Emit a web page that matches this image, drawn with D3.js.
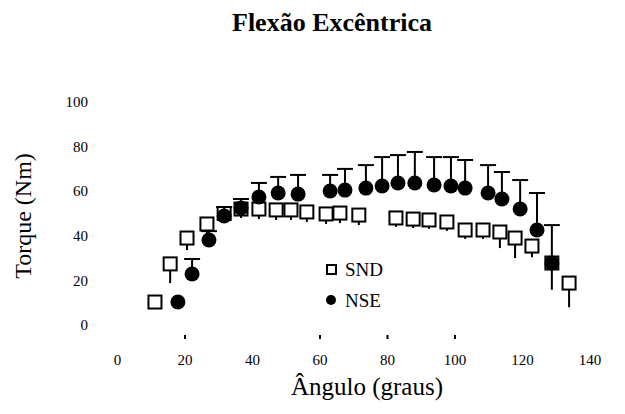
<!DOCTYPE html>
<html><head><meta charset="utf-8">
<script src="https://cdn.jsdelivr.net/npm/d3@7"></script>
<style>body{margin:0;background:#fff}svg{display:block}</style>
</head><body><svg id="c" width="625" height="414"></svg>
<script>
const titleText = "Flexão Excêntrica";
const xLabelText = "Ângulo (graus)";
const yLabelText = "Torque (Nm)";
const xTicks = [0,20,40,60,80,100,120,140];
const xTickMarks = [20,60,80,100];
const yTicks = [0,20,40,60,80,100];
const seriesNames = ["SND","NSE"];

const sndAngle  = [11.1,15.6,20.6,26.5,31.6,36.6,41.9,47,51.4,56.1,61.8,65.9,71.5,82.5,87.6,92.3,97.6,103,108.3,113.3,117.8,122.8,128.7,133.8];
const sndTorque = [10.3,27.4,39,45.3,50,52,52,51.6,51.6,50.7,49.8,50.2,49.3,48,47.5,47.1,46.2,42.6,42.6,41.7,39,35.4,27.8,18.8];
const sndErr    = [3,8.6,5.4,5,4,4,4.5,4.5,4.5,4.5,4.5,4.5,4.5,4,4,4,4,4,4,7.2,9,5,12,10.8];

const nseAngle  = [17.9,22.1,27.1,31.6,36.6,41.9,47.6,53.5,63,67.4,73.6,78.4,83.1,88.1,93.8,98.8,103,109.8,113.9,119.3,124.3,128.7];
const nseTorque = [10.3,22.9,38.1,48.9,52.5,57.4,59.2,58.7,60.1,60.5,61.4,62.3,63.7,63.7,62.8,62.3,61.4,59.2,56.5,52,42.6,27.8];
const nseErr    = [0,6.7,4,4,4,6.3,7.2,8.6,7.2,9.5,10.3,13,12.5,13.9,12.5,13,12.6,12.5,12.1,13,16.6,17];

const FONT = "'Liberation Serif','Times New Roman',serif";
const svg = d3.select("#c");
const x = d3.scaleLinear().domain([0,140]).range([117.5,590]);
const y = d3.scaleLinear().domain([0,100]).range([325,102]);

function txt(sel){ return sel.attr("font-family",FONT).attr("fill","#000"); }

txt(svg.append("text")).attr("x",332).attr("y",31).attr("text-anchor","middle")
  .attr("font-size",26).attr("font-weight","bold").text(titleText);

txt(svg.append("text")).attr("transform","translate(31,216) rotate(-90)").attr("text-anchor","middle")
  .attr("font-size",24).text(yLabelText);
txt(svg.append("text")).attr("x",367).attr("y",395).attr("text-anchor","middle")
  .attr("font-size",25).text(xLabelText);

// y tick labels
txt(svg.append("g").selectAll("text").data(yTicks).join("text"))
  .attr("x",88).attr("y",d=>y(d)).attr("dy","0.35em").attr("text-anchor","end")
  .attr("font-size",15).text(d=>d);
// x tick labels
txt(svg.append("g").selectAll("text").data(xTicks).join("text"))
  .attr("x",d=>x(d)).attr("y",365).attr("text-anchor","middle")
  .attr("font-size",15).text(d=>d);
// x tick marks (axis line not visible)
svg.append("g").selectAll("line").data(xTickMarks).join("line")
  .attr("x1",d=>x(d)).attr("x2",d=>x(d)).attr("y1",335).attr("y2",339)
  .attr("stroke","#000").attr("stroke-width",2);

const snd = sndAngle.map((a,i)=>({a,t:sndTorque[i],e:sndErr[i]}));
const nse = nseAngle.map((a,i)=>({a,t:nseTorque[i],e:nseErr[i]}));

// SND lower error bars
svg.append("g").selectAll("line").data(snd).join("line")
  .attr("x1",d=>x(d.a)).attr("x2",d=>x(d.a)).attr("y1",d=>y(d.t)).attr("y2",d=>y(d.t-d.e))
  .attr("stroke","#000").attr("stroke-width",2);
// SND squares
const s = 13;
svg.append("g").selectAll("rect").data(snd).join("rect")
  .attr("x",d=>x(d.a)-s/2).attr("y",d=>y(d.t)-s/2).attr("width",s).attr("height",s)
  .attr("fill","#fff").attr("stroke","#000").attr("stroke-width",2);

// NSE upper error bars
const eg = svg.append("g").selectAll("g").data(nse.filter(d=>d.e>0)).join("g");
eg.append("line").attr("x1",d=>x(d.a)).attr("x2",d=>x(d.a)).attr("y1",d=>y(d.t)).attr("y2",d=>y(d.t+d.e))
  .attr("stroke","#000").attr("stroke-width",2);
eg.append("line").attr("x1",d=>x(d.a)-8).attr("x2",d=>x(d.a)+8).attr("y1",d=>y(d.t+d.e)).attr("y2",d=>y(d.t+d.e))
  .attr("stroke","#000").attr("stroke-width",2);
// NSE filled circles
svg.append("g").selectAll("circle").data(nse).join("circle")
  .attr("cx",d=>x(d.a)).attr("cy",d=>y(d.t)).attr("r",7.5).attr("fill","#000");

// legend
svg.append("rect").attr("x",327).attr("y",265).attr("width",9).attr("height",9)
  .attr("fill","#fff").attr("stroke","#000").attr("stroke-width",2);
txt(svg.append("text")).attr("x",345).attr("y",276).attr("font-size",19).text(seriesNames[0]);
svg.append("circle").attr("cx",331).attr("cy",300).attr("r",5).attr("fill","#000");
txt(svg.append("text")).attr("x",345).attr("y",307).attr("font-size",19).text(seriesNames[1]);
</script></body></html>
